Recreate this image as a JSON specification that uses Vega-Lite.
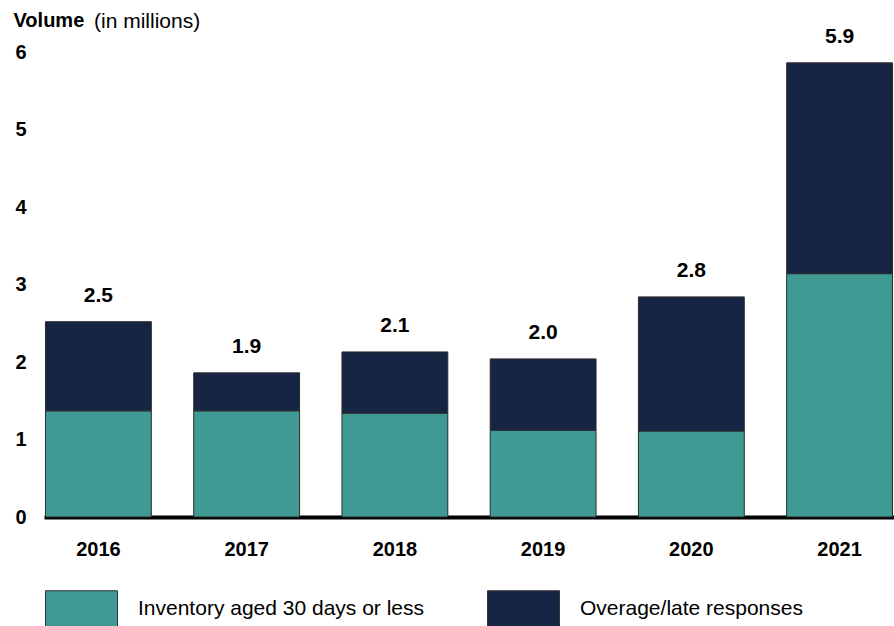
{
  "$schema": "https://vega.github.io/schema/vega-lite/v6.json",
  "autosize": {"type": "none"},
  "width": 850,
  "height": 465,
  "padding": {"left": 44, "top": 52, "right": 0, "bottom": 109},
  "background": "white",
  "title": {
    "text": "(in millions)",
    "anchor": "start",
    "frame": "group",
    "dx": 50,
    "offset": 0,
    "dy": 39,
    "font": "Liberation Sans",
    "fontSize": 21,
    "fontWeight": "normal",
    "color": "#000000",
    "baseline": "alphabetic"
  },
  "config": {
    "view": {"stroke": null},
    "font": "Liberation Sans"
  },
  "data": {
    "values": [
      {"year": "2016", "category": "Inventory aged 30 days or less", "value": 1.37},
      {"year": "2016", "category": "Overage/late responses", "value": 1.15},
      {"year": "2017", "category": "Inventory aged 30 days or less", "value": 1.37},
      {"year": "2017", "category": "Overage/late responses", "value": 0.49},
      {"year": "2018", "category": "Inventory aged 30 days or less", "value": 1.34},
      {"year": "2018", "category": "Overage/late responses", "value": 0.79},
      {"year": "2019", "category": "Inventory aged 30 days or less", "value": 1.12},
      {"year": "2019", "category": "Overage/late responses", "value": 0.92},
      {"year": "2020", "category": "Inventory aged 30 days or less", "value": 1.11},
      {"year": "2020", "category": "Overage/late responses", "value": 1.73},
      {"year": "2021", "category": "Inventory aged 30 days or less", "value": 3.14},
      {"year": "2021", "category": "Overage/late responses", "value": 2.72}
    ]
  },
  "encoding": {
    "x": {
      "field": "year",
      "type": "ordinal",
      "scale": {"paddingInner": 0.286, "paddingOuter": 0.01},
      "axis": {
        "title": null,
        "labelAngle": 0,
        "labelFontSize": 20,
        "labelFontWeight": "bold",
        "labelColor": "#000000",
        "labelPadding": 22,
        "ticks": false,
        "domainColor": "#000000",
        "domainWidth": 4
      }
    }
  },
  "layer": [
    {
      "mark": {"type": "bar", "stroke": "#2a2a2a", "strokeWidth": 1},
      "encoding": {
        "y": {
          "field": "value",
          "type": "quantitative",
          "stack": "zero",
          "scale": {"domain": [0, 6], "nice": false},
          "axis": {
            "title": "Volume",
            "titleAngle": 0,
            "titleAlign": "left",
            "titleBaseline": "alphabetic",
            "titleX": -31,
            "titleY": -26,
            "titleFontSize": 20,
            "titleFontWeight": "bold",
            "titleColor": "#000000",
            "values": [0, 1, 2, 3, 4, 5, 6],
            "format": "d",
            "labelFontSize": 20,
            "labelFontWeight": "bold",
            "labelColor": "#000000",
            "labelAlign": "left",
            "labelPadding": 29,
            "ticks": false,
            "domain": false,
            "grid": false
          }
        },
        "order": {"field": "category", "sort": "ascending"},
        "color": {
          "field": "category",
          "type": "nominal",
          "scale": {
            "domain": ["Inventory aged 30 days or less", "Overage/late responses"],
            "range": ["#3f9a94", "#172545"]
          },
          "legend": {
            "title": null,
            "orient": "none",
            "legendX": 1,
            "legendY": 520,
            "direction": "horizontal",
            "columns": 2,
            "columnPadding": 60,
            "symbolType": "M-1,-0.5H1V0.5H-1Z",
            "symbolSize": 5184,
            "symbolStrokeColor": "#333333",
            "symbolStrokeWidth": 1,
            "symbolOpacity": 1,
            "labelFontSize": 21,
            "labelColor": "#000000",
            "labelOffset": 20,
            "labelLimit": 400
          }
        }
      }
    },
    {
      "transform": [
        {"aggregate": [{"op": "sum", "field": "value", "as": "total"}], "groupby": ["year"]}
      ],
      "mark": {"type": "text", "baseline": "alphabetic", "dy": -20, "fontSize": 21, "fontWeight": "bold", "color": "#000000"},
      "encoding": {
        "y": {"field": "total", "type": "quantitative"},
        "text": {"field": "total", "type": "quantitative", "format": ".1f"}
      }
    }
  ]
}
